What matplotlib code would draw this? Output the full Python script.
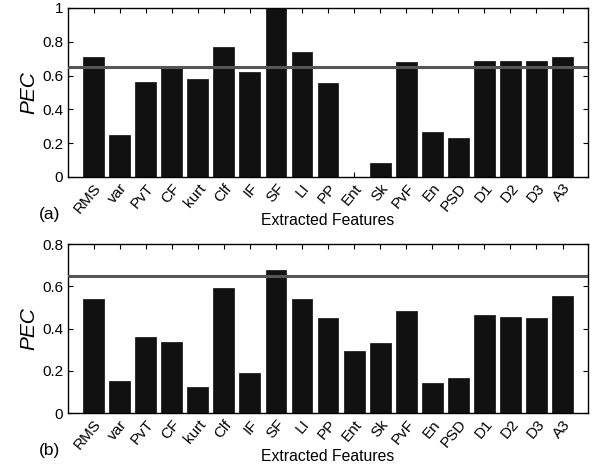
import numpy as np
import matplotlib
matplotlib.use("Agg")
import matplotlib.pyplot as plt
from matplotlib.ticker import FuncFormatter

features = ["RMS", "var", "PvT", "CF", "kurt", "Clf", "IF", "SF", "LI", "PP",
            "Ent", "Sk", "PvF", "En", "PSD", "D1", "D2", "D3", "A3"]
pec_a = [0.708, 0.25, 0.56, 0.65, 0.58, 0.771, 0.621, 1.0, 0.742, 0.558,
         0.0, 0.083, 0.68, 0.266, 0.231, 0.686, 0.686, 0.686, 0.71]
pec_b = [0.539, 0.152, 0.362, 0.334, 0.122, 0.593, 0.19, 0.675, 0.539, 0.449,
         0.294, 0.33, 0.485, 0.141, 0.164, 0.462, 0.454, 0.449, 0.552]
threshold = 0.65
ylims = [1.0, 0.8]
panel_labels = ["(a)", "(b)"]

plt.rcParams["font.family"] = ["Liberation Sans", "DejaVu Sans"]

fig = plt.figure(figsize=(5.97, 4.68), dpi=100)
positions = [[0.114, 0.622, 0.871, 0.361], [0.114, 0.1175, 0.871, 0.361]]

fmt = FuncFormatter(lambda v, p: f"{v:g}")
x = np.arange(1, len(features) + 1)

for pos, vals, ytop, lab in zip(positions, [pec_a, pec_b], ylims, panel_labels):
    ax = fig.add_axes(pos)
    ax.bar(x, vals, width=0.8, color="#111111", edgecolor="#222222", lw=0.6, zorder=2)
    ax.axhline(threshold, color="#555555", lw=2.2, zorder=3)
    ax.set_xlim(0.02, 19.98)
    ax.set_ylim(0, ytop)
    ax.set_yticks(np.arange(0, ytop + 0.01, 0.2))
    ax.yaxis.set_major_formatter(fmt)
    ax.set_xticks(x)
    ax.set_xticklabels(features, rotation=50, ha="right", va="top",
                       rotation_mode="anchor", fontsize=11)
    ax.tick_params(direction="in", top=True, right=True, length=3.5,
                   width=0.8, labelsize=11)
    ax.tick_params(axis="x", pad=3)
    for s in ax.spines.values():
        s.set_linewidth(1.0)
    ax.set_ylabel("PEC", fontstyle="italic", fontsize=15, labelpad=3)
    ax.set_xlabel("Extracted Features", fontsize=11.3, labelpad=-2)
    ax.text(-0.056, -0.18, lab, transform=ax.transAxes, fontsize=12.5,
            ha="left", va="top")

fig.savefig("out.png", dpi=100)
